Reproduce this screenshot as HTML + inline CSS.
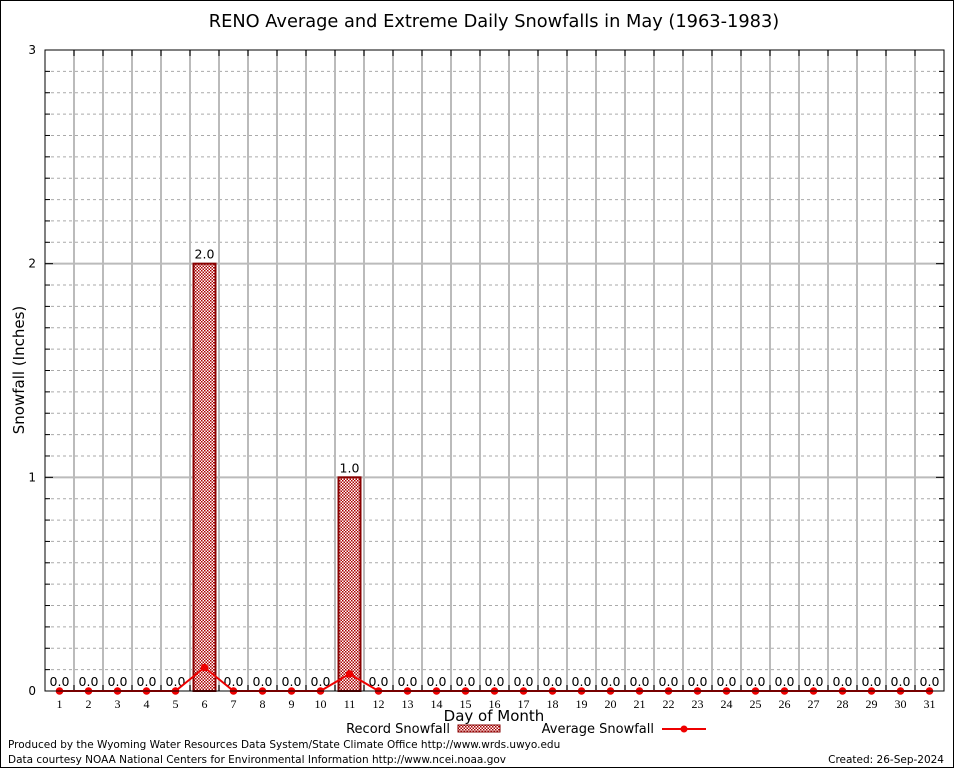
<!DOCTYPE html>
<html><head><meta charset="utf-8"><style>
body{margin:0;background:#fff;}
svg{display:block;font-family:"DejaVu Sans","Liberation Sans",sans-serif;}
</style></head><body>
<svg id="c" width="954" height="768">
<defs><pattern id="chk" width="3" height="3" patternUnits="userSpaceOnUse"><rect width="3" height="3" fill="#fff"/><rect width="1.5" height="1.5" fill="#a00"/><rect x="1.5" y="1.5" width="1.5" height="1.5" fill="#a00"/></pattern></defs>
<rect x="0.5" y="0.5" width="953" height="767" fill="none" stroke="#000"/>
<text x="494" y="27" font-size="17.8" text-anchor="middle">RENO Average and Extreme Daily Snowfalls in May (1963-1983)</text>
<g id="grid"></g><g id="marks"></g>
<rect x="45" y="50" width="899" height="641" fill="none" stroke="#000"/>
<text x="24" y="370" font-size="15" text-anchor="middle" transform="rotate(-90 24 370)">Snowfall (Inches)</text>
<text x="494" y="721" font-size="15" text-anchor="middle">Day of Month</text>
<g><text x="450" y="733" font-size="13" text-anchor="end">Record Snowfall</text><rect x="458" y="725" width="42" height="7" fill="url(#chk)" stroke="#800"/></g>
<g><text x="654" y="733" font-size="13" text-anchor="end">Average Snowfall</text><line x1="662" y1="729" x2="706" y2="729" stroke="#e00" stroke-width="2"/><circle cx="684" cy="729" r="3.5" fill="#e00"/></g>
<text x="8" y="748" font-size="10.5">Produced by the Wyoming Water Resources Data System/State Climate Office http://www.wrds.uwyo.edu</text>
<text x="8" y="763" font-size="10.5">Data courtesy NOAA National Centers for Environmental Information http://www.ncei.noaa.gov</text>
<text x="944" y="763" font-size="10.5" text-anchor="end">Created:  26-Sep-2024</text>
</svg>
<script>
const days=[1,2,3,4,5,6,7,8,9,10,11,12,13,14,15,16,17,18,19,20,21,22,23,24,25,26,27,28,29,30,31];
const record=[0,0,0,0,0,2,0,0,0,0,1,0,0,0,0,0,0,0,0,0,0,0,0,0,0,0,0,0,0,0,0];
const average=[0,0,0,0,0,0.11,0,0,0,0,0.08,0,0,0,0,0,0,0,0,0,0,0,0,0,0,0,0,0,0,0,0];
const yTicks=[0,1,2,3];
const L=45,T=50,W=899,H=641,yMax=3,slot=W/31;
const X=d=>L+(d-0.5)*slot, Y=v=>T+H-v/yMax*H;
const NS='http://www.w3.org/2000/svg';
function mk(p,t,a){const e=document.createElementNS(NS,t);for(const k in a)e.setAttribute(k,a[k]);p.appendChild(e);return e;}
const g=document.getElementById('grid'),m=document.getElementById('marks');
for(let i=1;i<yMax*10;i++){if(i%10==0)continue;const y=Y(i/10);
const l=mk(g,'line',{x1:L,x2:L+W,y1:y,y2:y,stroke:'#aaa','stroke-dasharray':'3,3'});


mk(g,'line',{x1:L,x2:L+5,y1:y,y2:y,stroke:'#000'});mk(g,'line',{x1:L+W-5,x2:L+W,y1:y,y2:y,stroke:'#000'});}
for(let i=1;i<31;i++){const x=L+i*slot;
const l=mk(g,'line',{x1:x,x2:x,y1:T,y2:T+H,stroke:'#bbb','stroke-width':2});


mk(g,'line',{x1:x,x2:x,y1:T,y2:T+6,stroke:'#000'});mk(g,'line',{x1:x,x2:x,y1:T+H-6,y2:T+H,stroke:'#000'});}
yTicks.forEach(v=>{const y=Y(v);
if(v>0&&v<yMax){const l=mk(g,'line',{x1:L,x2:L+W,y1:y,y2:y,stroke:'#bbb','stroke-width':2});


mk(g,'line',{x1:L,x2:L+8,y1:y,y2:y,stroke:'#000'});mk(g,'line',{x1:L+W-8,x2:L+W,y1:y,y2:y,stroke:'#000'});}
const t=mk(g,'text',{x:L-9,y:y+4,'font-size':12,'text-anchor':'end'});t.textContent=v;

});
days.forEach((d,i)=>{const x=X(d);
const t=mk(g,'text',{x:x,y:T+H+17,'font-size':12,'text-anchor':'middle','font-family':'Liberation Serif,serif'});t.textContent=d;


if(record[i]>0){const b=mk(m,'rect',{x:x-11,y:Y(record[i]),width:22,height:Y(0)-Y(record[i]),fill:'url(#chk)',stroke:'#800','stroke-width':2});

}
const lb=mk(m,'text',{x:x,y:Y(record[i])-5,'font-size':12.5,'text-anchor':'middle'});lb.textContent=record[i].toFixed(1);

});
const pts=days.map((d,i)=>X(d)+','+Y(average[i])).join(' ');
const pl=mk(m,'polyline',{points:pts,fill:'none',stroke:'#e00','stroke-width':2});


days.forEach((d,i)=>{const c=mk(m,'circle',{cx:X(d),cy:Y(average[i]),r:3.8,fill:'#e00'});

});
</script>
</body></html>
